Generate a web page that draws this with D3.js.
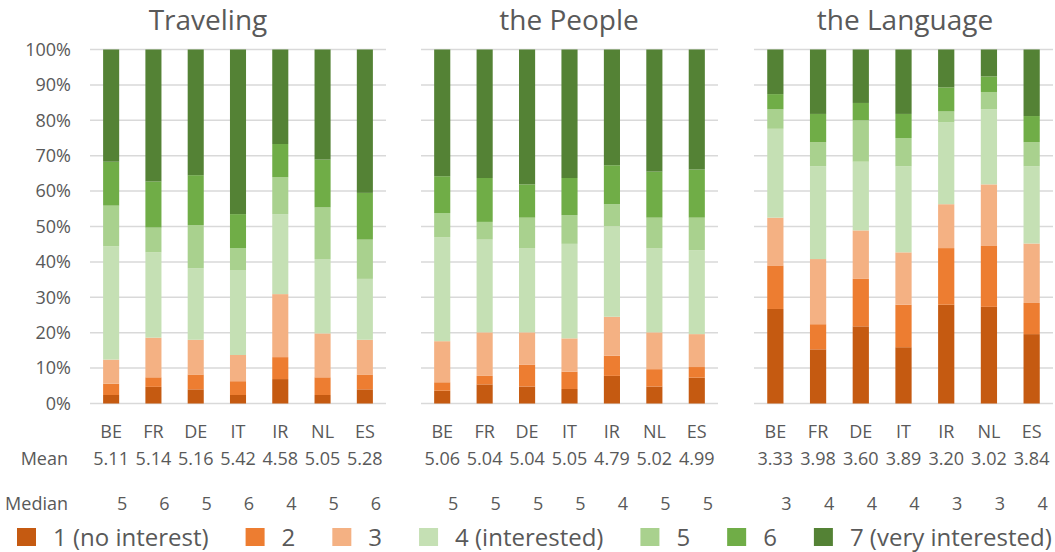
<!DOCTYPE html>
<meta charset="utf-8">
<script src="https://d3js.org/d3.v7.min.js"></script>
<style>
  body { margin: 0; background: #fff; }
  text { font-family: "Open Sans", sans-serif; fill: #595959; }
</style>
<div id="chart"></div>
<script>
  // categories
  const countries = ["BE", "FR", "DE", "IT", "IR", "NL", "ES"];
  const levels = ["1 (no interest)", "2", "3", "4 (interested)", "5", "6", "7 (very interested)"];
  const levelColors = ["#C55A11", "#ED7D31", "#F4B183", "#C5E0B4", "#A9D18E", "#70AD47", "#548235"];

  // share (%) of answers per level 1..7, one row per country
  const travelingShares = [
    [2.4, 3.2, 6.8, 32.0, 11.5, 12.4, 31.7],
    [4.7, 2.7, 11.2, 24.1, 7.0, 13.0, 37.3],
    [4.0, 4.2, 9.8, 20.2, 12.2, 14.1, 35.5],
    [2.4, 3.9, 7.4, 24.0, 6.2, 9.6, 46.5],
    [6.9, 6.2, 17.8, 22.6, 10.4, 9.4, 26.7],
    [2.4, 5.0, 12.4, 21.0, 14.6, 13.5, 31.1],
    [4.0, 4.2, 9.8, 17.2, 11.1, 13.2, 40.5]
  ];
  const peopleShares = [
    [3.6, 2.4, 11.6, 29.4, 6.8, 10.4, 35.8],
    [5.4, 2.4, 12.3, 26.2, 5.0, 12.4, 36.3],
    [4.8, 6.2, 9.1, 23.8, 8.6, 9.4, 38.1],
    [4.1, 4.9, 9.4, 26.7, 8.1, 10.5, 36.3],
    [7.8, 5.7, 11.0, 25.6, 6.2, 11.0, 32.7],
    [4.8, 4.9, 10.4, 23.8, 8.6, 13.0, 34.5],
    [7.3, 3.0, 9.3, 23.7, 9.2, 13.6, 33.9]
  ];
  const languageShares = [
    [26.7, 12.3, 13.5, 25.1, 5.5, 4.3, 12.6],
    [15.3, 7.1, 18.4, 26.2, 6.8, 8.0, 18.2],
    [21.8, 13.4, 13.7, 19.4, 11.7, 4.9, 15.1],
    [15.9, 12.0, 14.8, 24.3, 8.0, 6.8, 18.2],
    [27.9, 16.0, 12.4, 23.1, 3.1, 6.8, 10.7],
    [27.3, 17.2, 17.4, 21.2, 4.9, 4.4, 7.6],
    [19.6, 8.8, 16.8, 21.8, 6.8, 7.4, 18.8]
  ];

  const travelingMean = [5.11, 5.14, 5.16, 5.42, 4.58, 5.05, 5.28];
  const peopleMean = [5.06, 5.04, 5.04, 5.05, 4.79, 5.02, 4.99];
  const languageMean = [3.33, 3.98, 3.60, 3.89, 3.20, 3.02, 3.84];

  const travelingMedian = [5, 6, 5, 6, 4, 5, 6];
  const peopleMedian = [5, 5, 5, 5, 4, 5, 5];
  const languageMedian = [3, 4, 4, 4, 3, 3, 4];

  const yTicks = d3.range(0, 1.01, 0.1);

  // layout
  const width = 1055, height = 552;
  const panels = [
    {title: "Traveling", shares: travelingShares, mean: travelingMean, median: travelingMedian, x0: 90, x1: 386, titleX: 208},
    {title: "the People", shares: peopleShares, mean: peopleMean, median: peopleMedian, x0: 421, x1: 718, titleX: 569},
    {title: "the Language", shares: languageShares, mean: languageMean, median: languageMedian, x0: 754, x1: 1053, titleX: 905}
  ];

  const svg = d3.select("#chart")
    .append("svg")
      .attr("width", width)
      .attr("height", height);

  const y = d3.scaleLinear().domain([0, 1]).range([403.5, 49.5]);
  const keys = d3.range(levels.length);

  const stack = d3.stack()
    .keys(keys)
    .offset(d3.stackOffsetExpand);

  // y axis labels (first panel only)
  svg.append("g")
    .attr("transform", "translate(71,0)")
    .call(d3.axisLeft(y).tickValues(yTicks).tickFormat(d3.format(".0%")).tickSize(0).tickPadding(0))
    .call(g => g.select(".domain").remove())
    .selectAll("text")
      .style("font-family", "Open Sans, sans-serif")
      .style("font-size", "18px")
      .attr("fill", "#595959");

  panels.forEach(p => {
    const x = d3.scaleBand()
      .domain(countries)
      .range([p.x0, p.x1])
      .paddingInner(0.62)
      .paddingOuter(0.31);

    const g = svg.append("g");

    // gridlines
    g.selectAll("line.grid")
      .data(yTicks)
      .join("line")
        .attr("class", "grid")
        .attr("x1", p.x0)
        .attr("x2", p.x1)
        .attr("y1", d => y(d))
        .attr("y2", d => y(d))
        .attr("stroke", "#d9d9d9")
        .attr("stroke-width", 1.5);

    const rows = p.shares.map((s, i) => {
      const r = {country: countries[i]};
      s.forEach((v, k) => r[k] = v);
      return r;
    });
    const series = stack(rows);

    g.selectAll("g.layer")
      .data(series)
      .join("g")
        .attr("class", "layer")
        .attr("fill", d => levelColors[d.key])
      .selectAll("rect")
      .data(d => d)
      .join("rect")
        .attr("x", d => x(d.data.country))
        .attr("width", x.bandwidth())
        .attr("y", d => y(d[1]))
        .attr("height", d => y(d[0]) - y(d[1]));

    // title
    g.append("text")
      .attr("x", p.titleX)
      .attr("y", 30)
      .attr("text-anchor", "middle")
      .style("font-size", "28px")
      .text(p.title);

    const cx = c => x(c) + x.bandwidth() / 2;

    // country labels
    g.selectAll("text.country")
      .data(countries)
      .join("text")
        .attr("class", "country")
        .attr("x", d => cx(d))
        .attr("y", 438)
        .attr("text-anchor", "middle")
        .style("font-size", "18px")
        .text(d => d);

    // mean row
    g.selectAll("text.mean")
      .data(p.mean)
      .join("text")
        .attr("class", "mean")
        .attr("x", (d, i) => cx(countries[i]))
        .attr("y", 465)
        .attr("text-anchor", "middle")
        .style("font-size", "18px")
        .text(d => d3.format(".2f")(d));

    // median row
    g.selectAll("text.median")
      .data(p.median)
      .join("text")
        .attr("class", "median")
        .attr("x", (d, i) => cx(countries[i]) + 11)
        .attr("y", 510)
        .attr("text-anchor", "middle")
        .style("font-size", "18px")
        .text(d => d);
  });

  // row headers
  svg.append("text").attr("x", 68).attr("y", 465).attr("text-anchor", "end")
    .style("font-size", "18px").text("Mean");
  svg.append("text").attr("x", 68).attr("y", 510).attr("text-anchor", "end")
    .style("font-size", "18px").text("Median");

  // legend, laid out left to right
  const legend = svg.append("g");
  let lx = 17;
  levels.forEach((name, i) => {
    legend.append("rect")
      .attr("x", lx)
      .attr("y", 528)
      .attr("width", 19)
      .attr("height", 18)
      .attr("fill", levelColors[i]);
    const t = legend.append("text")
      .attr("x", lx + 36)
      .attr("y", 546)
      .style("font-size", "24px")
      .text(name);
    lx += 36 + t.node().getComputedTextLength() + 37;
  });
</script>
